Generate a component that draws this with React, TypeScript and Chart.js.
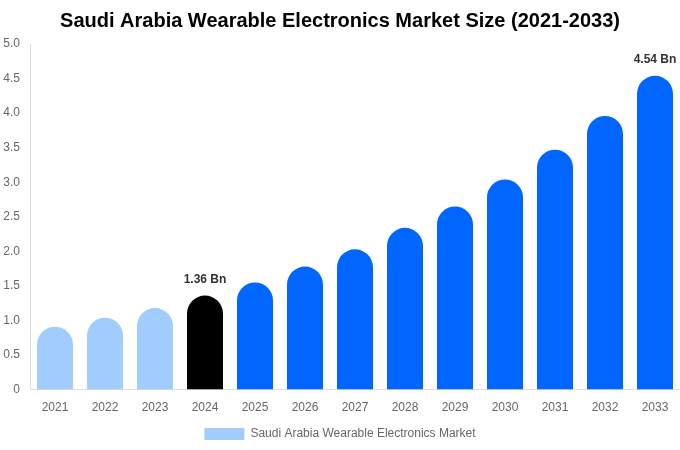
import React, { useEffect, useRef } from "react";
import { Chart, registerables } from "chart.js";

Chart.register(...registerables);

const categories = ["2021", "2022", "2023", "2024", "2025", "2026", "2027", "2028", "2029", "2030", "2031", "2032", "2033"];
const values = [0.91, 1.04, 1.18, 1.36, 1.55, 1.78, 2.03, 2.34, 2.65, 3.04, 3.47, 3.96, 4.54];
const barColors = ["#a0cdfd", "#a0cdfd", "#a0cdfd", "#000000", "#0066ff", "#0066ff", "#0066ff", "#0066ff", "#0066ff", "#0066ff", "#0066ff", "#0066ff", "#0066ff"];
const labelledIndexes = [3, 12];
const labelTexts = ["1.36 Bn", "4.54 Bn"];
const seriesName = "Saudi Arabia Wearable Electronics Market";
const titleText = "Saudi Arabia Wearable Electronics Market Size (2021-2033)";

const FONT = "'Liberation Sans', Arial, Helvetica, sans-serif";

const valueLabelPlugin = {
  id: "valueLabels",
  afterDatasetsDraw(chart: any) {
    const ctx = chart.ctx;
    const meta = chart.getDatasetMeta(0);
    ctx.save();
    ctx.font = `bold 12px ${FONT}`;
    ctx.fillStyle = "#333333";
    ctx.textAlign = "center";
    ctx.textBaseline = "middle";
    labelledIndexes.forEach((idx, i) => {
      const el = meta.data[idx];
      if (!el) return;
      ctx.fillText(labelTexts[i], el.x, el.y - 16);
    });
    ctx.restore();
  },
};

export default function App() {
  const canvasRef = useRef<HTMLCanvasElement | null>(null);

  useEffect(() => {
    document.body.style.margin = "0";
    const canvas = canvasRef.current;
    if (!canvas) return;
    const chart = new Chart(canvas, {
      type: "bar",
      data: {
        labels: categories,
        datasets: [
          {
            label: seriesName,
            data: values,
            backgroundColor: barColors,
            borderWidth: 0,
            borderRadius: { topLeft: 100, topRight: 100, bottomLeft: 0, bottomRight: 0 },
            borderSkipped: false,
            categoryPercentage: 0.8,
            barPercentage: 0.9,
          },
        ],
      },
      options: {
        animation: false,
        responsive: false,
        maintainAspectRatio: false,
        layout: { padding: { left: 0, right: 0, top: 0, bottom: 0 } },
        plugins: {
          title: {
            display: true,
            text: titleText,
            color: "#000000",
            font: { family: FONT, size: 20, weight: "bold" },
            padding: { top: 9, bottom: 11 },
          },
          legend: {
            display: true,
            position: "bottom",
            labels: {
              boxWidth: 40,
              boxHeight: 12,
              padding: 6,
              color: "#666666",
              font: { family: FONT, size: 12 },
              generateLabels: () => [
                {
                  text: seriesName,
                  fillStyle: "#a0cdfd",
                  strokeStyle: "#a0cdfd",
                  lineWidth: 0,
                  hidden: false,
                  datasetIndex: 0,
                  fontColor: "#666666",
                },
              ],
            },
          },
          tooltip: { enabled: false },
        },
        scales: {
          x: {
            grid: { display: false },
            border: { display: true, color: "#dddddd" },
            afterFit: (scale: any) => {
              scale.height += 4;
            },
            ticks: { color: "#666666", font: { family: FONT, size: 12 }, padding: 3 },
          },
          y: {
            min: 0,
            max: 5,
            grid: { display: false, drawTicks: false },
            border: { display: true, color: "#dddddd" },
            afterFit: (scale: any) => {
              scale.width = 30;
            },
            ticks: {
              stepSize: 0.5,
              color: "#666666",
              font: { family: FONT, size: 12 },
              padding: 10,
              callback: (v: any) => (Number(v) === 0 ? "0" : Number(v).toFixed(1)),
            },
          },
        },
      },
      plugins: [valueLabelPlugin],
    });
    return () => chart.destroy();
  }, []);

  return (
    <div style={{ position: "absolute", left: 0, top: 0, width: 680, height: 450 }}>
      <canvas ref={canvasRef} width={680} height={450} style={{ width: 680, height: 450 }} />
    </div>
  );
}
